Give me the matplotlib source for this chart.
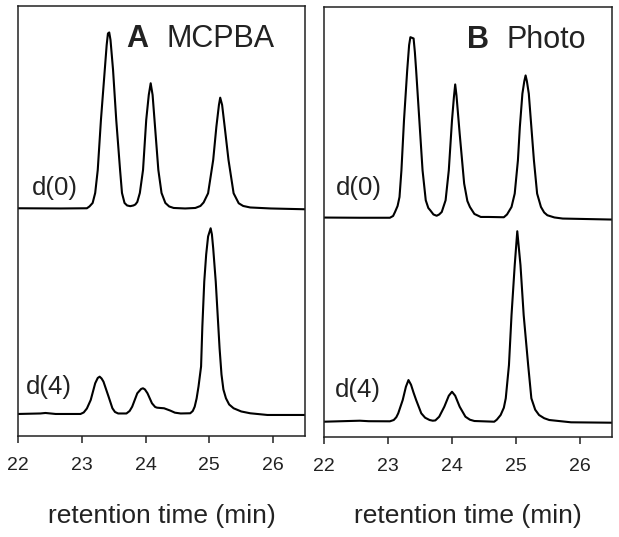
import matplotlib
matplotlib.use("Agg")
import matplotlib.pyplot as plt

plt.rcParams['font.family'] = ['Liberation Sans', 'DejaVu Sans']

# retention time (min) and detector signal (a.u.)
# panel A: MCPBA, d(0)
mcpba_d0_t = [22.0, 22.67, 23.08, 23.12, 23.17, 23.21, 23.25, 23.30, 23.36, 23.39,
              23.41, 23.43, 23.45, 23.49, 23.54, 23.60, 23.63, 23.67, 23.71, 23.76,
              23.81, 23.84, 23.87, 23.91, 23.96, 24.01, 24.05, 24.08, 24.11, 24.14,
              24.20, 24.25, 24.31, 24.37, 24.44, 24.62, 24.78, 24.86, 24.91, 24.98,
              25.06, 25.11, 25.15, 25.17, 25.20, 25.24, 25.30, 25.38, 25.46, 25.53,
              25.64, 25.96, 26.5]
mcpba_d0_s = [228.2, 228.0, 228.2, 230.0, 233.5, 243.5, 266.5, 316.5, 366.5, 391.5,
              403.0, 404.0, 396.5, 366.5, 316.5, 266.5, 243.5, 233.5, 231.0, 230.3,
              231.0, 232.0, 234.5, 243.5, 266.5, 316.5, 341.5, 353.2, 341.5, 316.5,
              266.5, 243.5, 233.5, 230.0, 228.5, 228.0, 228.5, 230.5, 234.0, 243.2,
              276.5, 309.8, 331.5, 338.8, 331.5, 309.8, 276.5, 243.2, 233.2, 230.5,
              229.0, 228.0, 227.2]

# panel A: MCPBA, d(4)
mcpba_d4_t = [22.0, 22.35, 22.43, 22.59, 22.98, 23.03, 23.08, 23.14, 23.21, 23.25,
              23.28, 23.31, 23.34, 23.42, 23.48, 23.52, 23.57, 23.70, 23.75, 23.79,
              23.87, 23.93, 23.96, 23.99, 24.03, 24.10, 24.15, 24.18, 24.23, 24.29,
              24.39, 24.46, 24.55, 24.70, 24.74, 24.77, 24.80, 24.83, 24.87, 24.89,
              24.92, 24.95, 24.98, 25.02, 25.04, 25.06, 25.10, 25.13, 25.16, 25.19,
              25.22, 25.26, 25.31, 25.38, 25.50, 25.64, 25.91, 26.5]
mcpba_d4_s = [22.5, 23.0, 23.5, 22.5, 22.5, 24.0, 28.0, 36.5, 53.2, 58.5,
              59.8, 58.0, 54.8, 39.8, 28.2, 24.5, 23.0, 23.0, 25.5, 29.8,
              43.2, 47.5, 48.2, 47.0, 43.2, 33.2, 29.5, 28.8, 28.5, 28.2,
              25.8, 23.8, 23.0, 23.2, 25.5, 29.8, 38.0, 50.0, 70.0, 110.0,
              155.0, 182.0, 200.0, 208.2, 202.0, 188.2, 154.8, 121.5, 88.2, 62.0,
              47.0, 38.2, 32.0, 28.2, 25.0, 23.2, 21.5, 21.5]

# panel B: Photo, d(0)
photo_d0_t = [22.0, 22.56, 23.03, 23.08, 23.11, 23.15, 23.18, 23.21, 23.25, 23.30,
              23.33, 23.35, 23.40, 23.42, 23.44, 23.49, 23.54, 23.59, 23.63, 23.66,
              23.71, 23.76, 23.80, 23.84, 23.90, 23.95, 24.00, 24.03, 24.05, 24.07,
              24.12, 24.19, 24.24, 24.28, 24.35, 24.45, 24.57, 24.81, 24.86, 24.93,
              24.98, 25.03, 25.06, 25.10, 25.13, 25.15, 25.17, 25.20, 25.24, 25.28,
              25.33, 25.39, 25.44, 25.49, 25.60, 25.73, 26.5]
photo_d0_s = [219.4, 219.2, 219.2, 221.0, 225.0, 231.0, 240.0, 266.7, 316.7, 366.7,
              392.0, 400.0, 398.7, 385.0, 366.7, 316.7, 266.7, 236.7, 229.0, 226.7,
              222.5, 221.2, 222.5, 225.0, 236.7, 266.7, 316.7, 340.0, 352.7, 341.7,
              303.4, 253.4, 236.0, 230.0, 223.0, 220.0, 220.0, 219.7, 222.5, 230.0,
              243.4, 276.7, 310.0, 343.4, 356.0, 361.7, 356.0, 343.4, 310.0, 276.7,
              243.4, 230.0, 224.5, 221.7, 219.5, 218.4, 217.4]

# panel B: Photo, d(4)
photo_d4_t = [22.0, 22.56, 22.70, 23.03, 23.09, 23.13, 23.16, 23.23, 23.28, 23.32,
              23.36, 23.40, 23.44, 23.52, 23.58, 23.65, 23.70, 23.74, 23.80, 23.88,
              23.95, 24.00, 24.05, 24.12, 24.21, 24.28, 24.35, 24.66, 24.70, 24.76,
              24.81, 24.84, 24.89, 24.93, 24.98, 25.02, 25.07, 25.12, 25.19, 25.24,
              25.30, 25.36, 25.44, 25.52, 25.86, 26.5]
photo_d4_s = [15.0, 16.0, 15.5, 15.4, 16.7, 19.5, 23.4, 36.7, 50.0, 56.7,
              52.0, 44.0, 36.7, 23.4, 19.0, 16.7, 16.0, 16.3, 20.0, 30.0,
              41.0, 45.0, 41.0, 30.0, 20.0, 17.0, 15.7, 15.0, 17.0, 21.7,
              29.0, 38.4, 71.7, 121.7, 171.7, 205.7, 171.7, 121.7, 71.7, 38.4,
              27.0, 21.7, 18.5, 16.7, 14.4, 14.0]

x_ticks = [22, 23, 24, 25, 26]
panel_letters = ['A', 'B']
panel_names = ['MCPBA', 'Photo']
trace_labels = ['d(0)', 'd(4)']

text_color = '#222222'

fig = plt.figure(figsize=(6.19, 5.37), dpi=100)
ax_a = fig.add_axes([0.0291, 0.1872, 0.4637, 0.8017])
ax_b = fig.add_axes([0.5234, 0.1868, 0.4653, 0.8007])

panels = [
    (ax_a, mcpba_d0_t, mcpba_d0_s, mcpba_d4_t, mcpba_d4_s,
     (22.21, 248.5), (22.13, 49.0), (0.376, 0.518)),
    (ax_b, photo_d0_t, photo_d0_s, photo_d4_t, photo_d4_s,
     (22.19, 248.7), (22.17, 46.7), (0.4955, 0.634)),
]

for i, (ax, t0, s0, t4, s4, pos0, pos4, title_x) in enumerate(panels):
    ax.plot(t0, s0, color='black', lw=1.5, solid_joinstyle='round')
    ax.plot(t4, s4, color='black', lw=1.5, solid_joinstyle='round')

    ax.set_xlim(22, 26.5)
    ax.set_ylim(0, 430.5)
    ax.set_xticks(x_ticks)
    ax.set_xticklabels([str(v) for v in x_ticks])
    ax.set_yticks([])
    ax.tick_params(axis='x', direction='out', length=5, width=1.1,
                   pad=10, labelsize=14, labelcolor=text_color, color='#222222')
    for sp in ax.spines.values():
        sp.set_linewidth(1.1)
        sp.set_color('#222222')

    # trace labels
    ax.text(pos0[0], pos0[1], trace_labels[0], fontsize=18.5, color=text_color,
            ha='left', va='center')
    ax.text(pos4[0], pos4[1], trace_labels[1], fontsize=18.5, color=text_color,
            ha='left', va='center')

    # panel title
    ax.text(title_x[0], 0.923, panel_letters[i], transform=ax.transAxes,
            fontsize=22, fontweight='bold', color=text_color, ha='left', va='center')
    ax.text(title_x[1], 0.923, panel_names[i], transform=ax.transAxes,
            fontsize=22, color=text_color, ha='left', va='center')

    ax.set_xlabel('retention time (min)', fontsize=19, color=text_color)
    ax.xaxis.label.set_va('center')
    ax.xaxis.set_label_coords(0.5, -0.185)

fig.savefig('out.png', dpi=100)
